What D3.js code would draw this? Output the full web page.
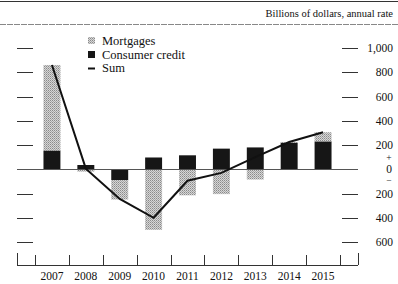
<!DOCTYPE html>
<html>
<head>
<meta charset="utf-8">
<script src="https://cdn.jsdelivr.net/npm/d3@7"></script>
<style>
  body { margin: 0; background: #fff; }
  text { font-family: "Liberation Serif", "DejaVu Serif", serif; fill: #111; }
</style>
</head>
<body>
<svg width="398" height="284"></svg>
<script>
/* chart data (billions of dollars, annual rate) */
var years = ["2007", "2008", "2009", "2010", "2011", "2012", "2013", "2014", "2015"];
var mortgages = [705, -20, -160, -500, -215, -205, -85, 5, 75];
var consumerCredit = [155, 35, -90, 97, 115, 170, 180, 220, 230];
var sum = [860, 5, -245, -400, -95, -30, 100, 225, 305];
var yTicks = [-600, -400, -200, 200, 400, 600, 800, 1000];

var svg = d3.select("svg"),
    width = +svg.attr("width"),
    height = +svg.attr("height");

/* plot box: band area from 35 to 340, axis lines run a bit wider */
var x = d3.scaleBand().domain(years).range([35, 340]).paddingInner(0.5).paddingOuter(0.25),
    y = d3.scaleLinear().domain([-600, 1000]).range([242, 48]);

var axisLeft = 17, axisRight = 358, baseY = 265;

/* halftone-ish fill for mortgages */
var defs = svg.append("defs");
var pat = defs.append("pattern")
    .attr("id", "dots")
    .attr("width", 2).attr("height", 2)
    .attr("patternUnits", "userSpaceOnUse");
pat.append("rect").attr("width", 2).attr("height", 2).attr("fill", "#d6d6d6");
pat.append("rect").attr("width", 1).attr("height", 1).attr("fill", "#8a8a8a");
pat.append("rect").attr("x", 1).attr("y", 1).attr("width", 1).attr("height", 1).attr("fill", "#a8a8a8");

/* header rules and unit note */
svg.append("line").attr("x1", 0).attr("x2", width).attr("y1", 1.5).attr("y2", 1.5)
    .attr("stroke", "#333").attr("stroke-width", 1);
svg.append("line").attr("x1", 0).attr("x2", width).attr("y1", 24.5).attr("y2", 24.5)
    .attr("stroke", "#888").attr("stroke-width", 1).attr("stroke-dasharray", "6,1");
svg.append("text")
    .attr("x", 393).attr("y", 17)
    .attr("text-anchor", "end")
    .style("font-size", "10.5px")
    .text("Billions of dollars, annual rate");

/* y ticks on both sides, no gridlines */
var g = svg.append("g");
g.selectAll(".tickL").data(yTicks).enter().append("line")
    .attr("x1", axisLeft).attr("x2", 33)
    .attr("y1", function(d) { return Math.round(y(d)) + 0.5; })
    .attr("y2", function(d) { return Math.round(y(d)) + 0.5; })
    .attr("stroke", "#333");
g.selectAll(".tickR").data(yTicks).enter().append("line")
    .attr("x1", 342).attr("x2", axisRight)
    .attr("y1", function(d) { return Math.round(y(d)) + 0.5; })
    .attr("y2", function(d) { return Math.round(y(d)) + 0.5; })
    .attr("stroke", "#333");
g.selectAll(".tickLabel").data(yTicks).enter().append("text")
    .attr("x", 393)
    .attr("y", function(d) { return y(d) + 4; })
    .attr("text-anchor", "end")
    .style("font-size", "11.5px")
    .text(function(d) { return d3.format(",")(Math.abs(d)); });

/* the + 0 - marks around zero */
g.append("text").attr("x", 389).attr("y", y(0) + 4).attr("text-anchor", "middle")
    .style("font-size", "11.5px").text("0");
g.append("text").attr("x", 389).attr("y", y(0) - 8).attr("text-anchor", "middle")
    .style("font-size", "9.5px").text("+");
g.append("text").attr("x", 389).attr("y", y(0) + 15).attr("text-anchor", "middle")
    .style("font-size", "9.5px").text("\u2212");

/* stacked bars, consumer credit sits next to zero */
var rows = years.map(function(yr, i) {
  return {year: yr, consumer: consumerCredit[i], mortgages: mortgages[i]};
});
var stack = d3.stack().keys(["consumer", "mortgages"]).offset(d3.stackOffsetDiverging);
var series = stack(rows);
var fills = {consumer: "#161616", mortgages: "url(#dots)"};

svg.selectAll(".layer")
  .data(series)
  .enter().append("g")
    .attr("class", "layer")
    .attr("fill", function(s) { return fills[s.key]; })
  .selectAll("rect")
  .data(function(s) { return s; })
  .enter().append("rect")
    .attr("x", function(d) { return x(d.data.year); })
    .attr("width", x.bandwidth())
    .attr("y", function(d) { return y(Math.max(d[0], d[1])); })
    .attr("height", function(d) { return Math.abs(y(d[0]) - y(d[1])); });

/* zero line */
svg.append("line")
    .attr("x1", axisLeft).attr("x2", axisRight)
    .attr("y1", Math.round(y(0)) + 0.5).attr("y2", Math.round(y(0)) + 0.5)
    .attr("stroke", "#555").attr("stroke-width", 1);

/* sum line */
var line = d3.line()
    .x(function(d, i) { return x(years[i]) + x.bandwidth() / 2; })
    .y(function(d) { return y(d); });
svg.append("path")
    .datum(sum)
    .attr("d", line)
    .attr("fill", "none")
    .attr("stroke", "#111")
    .attr("stroke-width", 2);

/* bottom axis with year boundaries */
var bounds = [axisLeft];
for (var i = 0; i <= years.length; i++) bounds.push(35 + i * (305 / years.length));
bounds.push(axisRight);

svg.append("line")
    .attr("x1", axisLeft).attr("x2", axisRight)
    .attr("y1", baseY + 0.5).attr("y2", baseY + 0.5)
    .attr("stroke", "#333");
svg.selectAll(".xtick").data(bounds).enter().append("line")
    .attr("x1", function(d) { return Math.round(d) + 0.5; })
    .attr("x2", function(d) { return Math.round(d) + 0.5; })
    .attr("y1", function(d, i) { return (i === 0 || i === bounds.length - 1) ? baseY - 12 : baseY - 10; })
    .attr("y2", baseY)
    .attr("stroke", "#333");
svg.selectAll(".yearLabel").data(years).enter().append("text")
    .attr("x", function(d) { return x(d) + x.bandwidth() / 2; })
    .attr("y", 280)
    .attr("text-anchor", "middle")
    .style("font-size", "11.5px")
    .text(function(d) { return d; });

/* legend */
var legend = svg.append("g").attr("transform", "translate(88,0)");
legend.append("rect").attr("x", 0).attr("y", 37).attr("width", 7).attr("height", 7).attr("fill", "url(#dots)");
legend.append("text").attr("x", 14).attr("y", 45).style("font-size", "12.5px").text("Mortgages");
legend.append("rect").attr("x", 0).attr("y", 51).attr("width", 7).attr("height", 7).attr("fill", "#161616");
legend.append("text").attr("x", 14).attr("y", 59).style("font-size", "12.5px").text("Consumer credit");
legend.append("line").attr("x1", 0).attr("x2", 7).attr("y1", 68.5).attr("y2", 68.5)
    .attr("stroke", "#111").attr("stroke-width", 2);
legend.append("text").attr("x", 14).attr("y", 72).style("font-size", "12.5px").text("Sum");
</script>
</body>
</html>
